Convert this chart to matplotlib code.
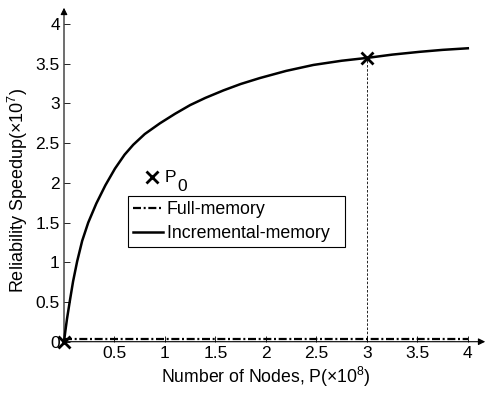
import numpy as np
import matplotlib
matplotlib.use('Agg')
import matplotlib.pyplot as plt

plt.rcParams['font.family'] = ['Liberation Sans', 'DejaVu Sans']
plt.rcParams['mathtext.fontset'] = 'custom'
plt.rcParams['mathtext.rm'] = 'Liberation Sans'

# data (x in 1e8 nodes, y in 1e7)
inc_x = [0, 0.015, 0.03, 0.06, 0.09, 0.13, 0.18, 0.24, 0.32, 0.41, 0.505, 0.6, 0.686, 0.8,
         0.95, 1.1, 1.25, 1.4, 1.58, 1.75, 1.94, 2.2, 2.47, 2.75, 3.01, 3.25, 3.52, 3.75, 4.0]
inc_y = [0, 0.15, 0.29, 0.53, 0.76, 1.01, 1.27, 1.50, 1.74, 1.97, 2.18, 2.355, 2.48, 2.615,
         2.75, 2.87, 2.98, 3.07, 3.165, 3.245, 3.32, 3.41, 3.485, 3.538, 3.575, 3.615, 3.65, 3.675, 3.695]
full_x = [0, 1, 2, 3, 4]
full_y = [0.04, 0.04, 0.04, 0.04, 0.04]
p0_x = [0, 3.0]
p0_y = [0, 3.575]
xticks = [0.5, 1, 1.5, 2, 2.5, 3, 3.5, 4]
yticks = [0, 0.5, 1, 1.5, 2, 2.5, 3, 3.5, 4]

fs = 12.5

fig = plt.figure(figsize=(4.89, 3.94), dpi=100)
ax = fig.add_axes([64/489, 1-341.7/394, 424/489, 336.7/394])
ax.set_xlim(0, 4.2)
ax.set_ylim(0, 4.24)

for s in ax.spines.values():
    s.set_visible(False)
# axes with arrows
ax.annotate('', xy=(1, 0), xytext=(0, 0), xycoords='axes fraction',
            arrowprops=dict(arrowstyle='-|>', lw=0.8, color='k', mutation_scale=10), annotation_clip=False)
ax.annotate('', xy=(0, 1), xytext=(0, 0), xycoords='axes fraction',
            arrowprops=dict(arrowstyle='-|>', lw=0.8, color='k', mutation_scale=10), annotation_clip=False)

ax.plot(full_x, full_y, color='k', lw=1.6, linestyle=(0, (3.6, 1.2, 0.9, 1.2)), label='Full-memory')
ax.plot(inc_x, inc_y, color='k', lw=1.8, label='Incremental-memory  ', clip_on=False)
ax.plot([p0_x[1], p0_x[1]], [0, p0_y[1]], color='k', lw=0.6, linestyle=(0, (3, 2)))
ax.plot(p0_x, p0_y, 'x', color='k', ms=8, mew=2, clip_on=False, zorder=5)

ax.set_xticks(xticks)
ax.set_xticklabels([f'{t:g}' for t in xticks])
ax.set_yticks(yticks)
ax.set_yticklabels([f'{t:g}' for t in yticks])
ax.tick_params(direction='in', length=4, width=0.6, labelsize=fs, pad=3)

ax.set_xlabel('Number of Nodes, P(×10$^{8}$)', fontsize=12.7)
ax.xaxis.set_label_coords((266-64)/424, -0.07)
ax.set_ylabel('Reliability Speedup(×10$^{7}$)', fontsize=13)
ax.yaxis.set_label_coords(-0.08, 0.4505)

# P0 key above the legend box
ax.plot([0.87], [2.07], 'x', color='k', ms=8, mew=2)
ax.text(1.0, 2.07, 'P', fontsize=fs, va='center', ha='left')
ax.text(1.12, 1.95, '0', fontsize=fs, va='center', ha='left')

leg = ax.legend(loc='upper left', bbox_to_anchor=(0.150, 0.4336), fontsize=12.8,
                frameon=True, fancybox=False, edgecolor='k', framealpha=1,
                handlelength=1.7, handletextpad=0.2, borderpad=0.3, labelspacing=0.4,
                borderaxespad=0)
leg.get_frame().set_linewidth(0.8)

fig.savefig('out.png', dpi=100)
